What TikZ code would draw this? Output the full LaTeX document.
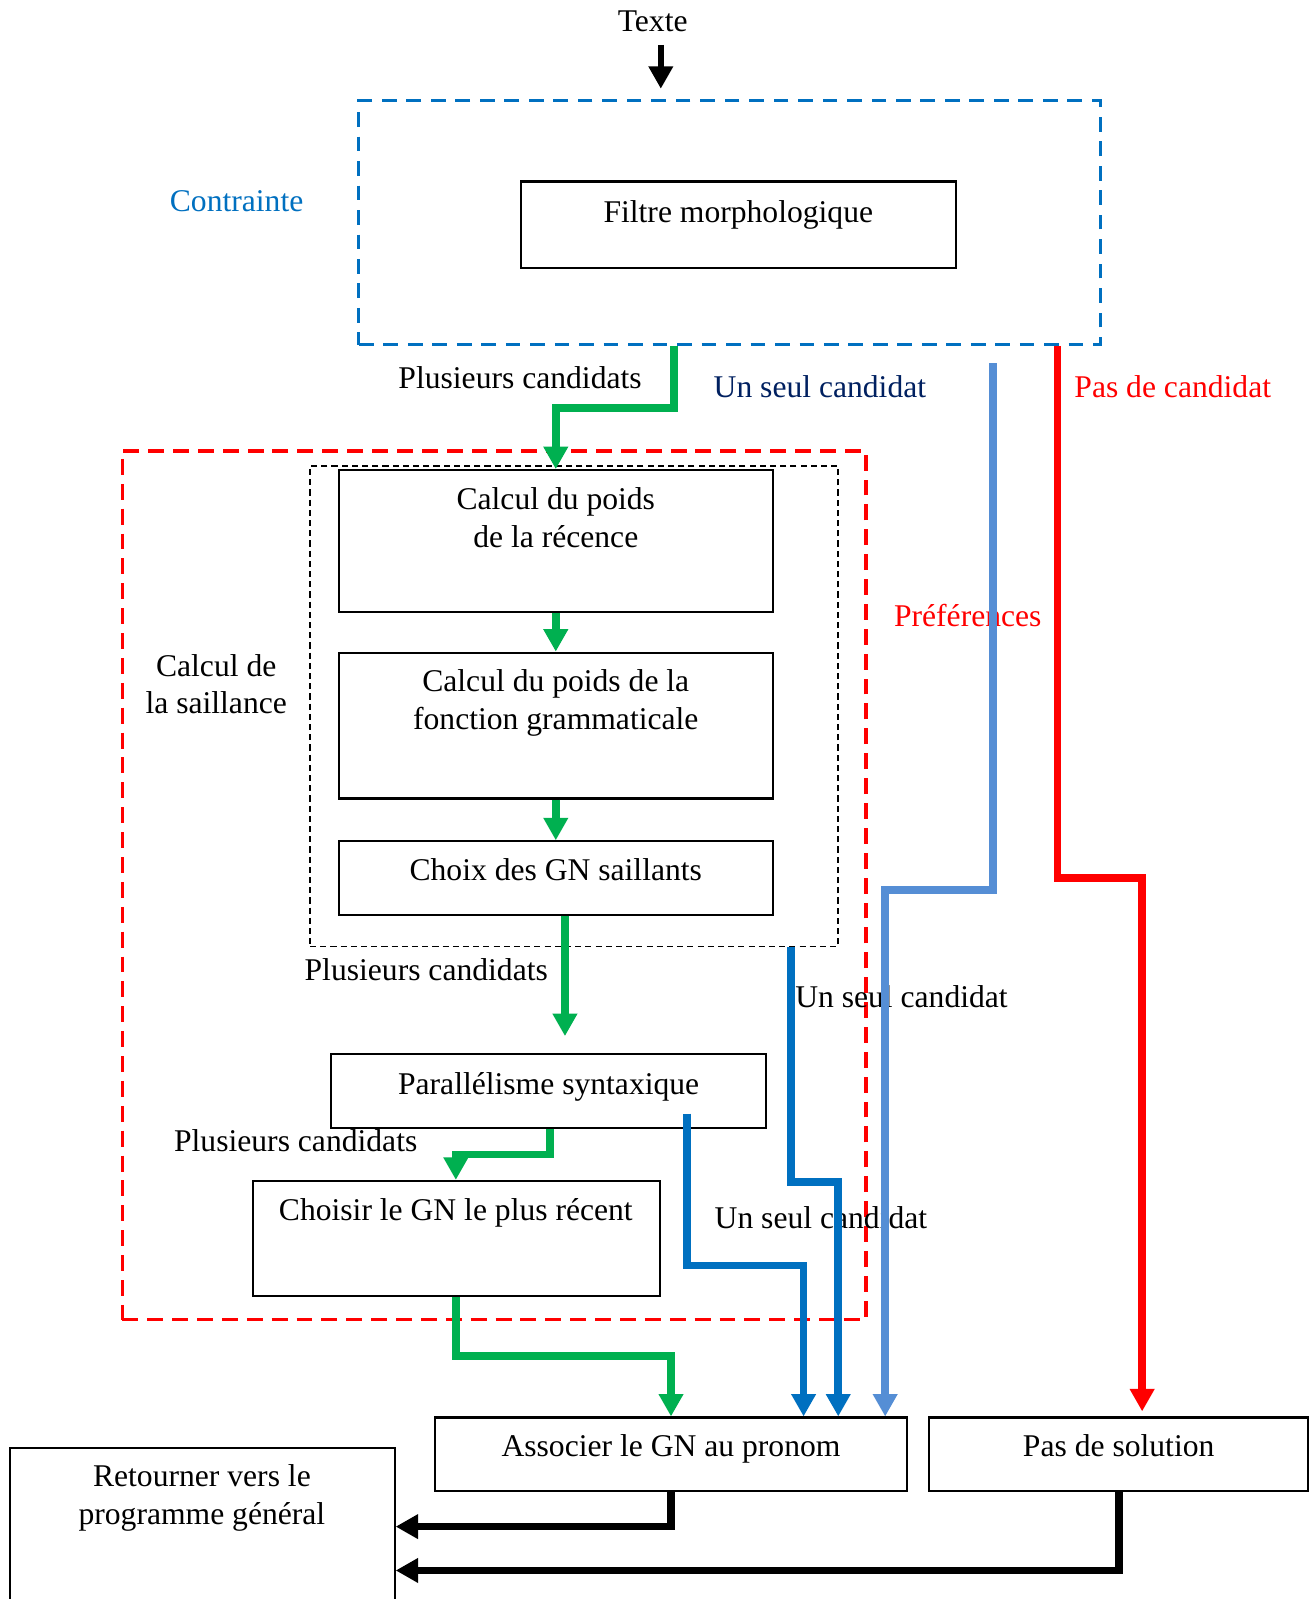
\documentclass[tikz,border=0pt]{standalone}
\usepackage{fontspec}
\setmainfont{Liberation Serif}
\usetikzlibrary{arrows.meta,fit}
\definecolor{cblue}{RGB}{0,112,192}
\definecolor{cgreen}{RGB}{0,176,80}
\definecolor{cdark}{RGB}{0,32,96}
\definecolor{clight}{RGB}{85,142,213}
\definecolor{cred}{RGB}{255,0,0}
\begin{document}
\begin{tikzpicture}[x=0.5pt,y=-0.5pt,
  box/.style={draw=black, line width=1pt, inner sep=0pt},
  bluedash/.style={draw=cblue, line width=1.5pt, dash pattern=on 7.2pt off 4.8pt, inner sep=0pt},
  reddash/.style={draw=cred, line width=1.8pt, dash pattern=on 7.8pt off 4.4pt, inner sep=0pt},
  blackdash/.style={draw=black, line width=0.75pt, dash pattern=on 3pt off 2pt, inner sep=0pt},
  txt/.style={font=\fontsize{15.5}{18.6}\selectfont, inner sep=0pt, anchor=base},
  conn/.style={line width=3.8pt, -{Triangle[length=11pt,width=11.5pt]}},
  gline/.style={conn, draw=cgreen},
  bline/.style={conn, draw=cblue},
  lline/.style={conn, draw=clight},
  rline/.style={conn, draw=cred},
  kline/.style={conn, draw=black}]
\fill[white, use as bounding box] (0,0) rectangle (1290,1568);
\clip (0,0) rectangle (1290,1568);

% frames
\node[bluedash, fit={(352,99) (1079,338)}] (cbox) {};
\node[reddash, fit={(120,442) (849,1294)}] (sbox) {};
\node[blackdash, fit={(304,457) (822,928)}] (ibox) {};

% boxes
\node[box, fit={(511,178) (937,263)}] (fbox) {};
\node[box, fit={(332,461) (758,600)}] (b1) {};
\node[box, fit={(332,640) (758,783)}] (b2) {};
\node[box, fit={(332,825) (758,897)}] (b3) {};
\node[box, fit={(325,1034) (751,1106)}] (b4) {};
\node[box, fit={(248,1158) (647,1271)}] (b5) {};
\node[box, fit={(427,1390) (889,1462)}] (b6) {};
\node[box, fit={(911,1390) (1283,1462)}] (b7) {};
\node[box, fit={(10,1420) (387,1640)}] (b8) {};

% texts
\node[txt] (tTexte) at (640,31) {Texte};
\node[txt, text=cblue] (tContr) at (232,207) {Contrainte};
\node[txt] (tFiltre) at (724,218) {Filtre morphologique};
\node[txt] (tPl1) at (510,381) {Plusieurs candidats};
\node[txt, text=cdark] (tUn1) at (804,390) {Un seul candidat};
\node[txt, text=cred] (tPas) at (1150,390) {Pas de candidat};
\node[txt, text=cred] (tPref) at (949,614) {Préférences};
\node[txt] (t1a) at (545,500) {Calcul du poids};
\node[txt] (t1b) at (545,537) {de la récence};
\node[txt] (tsa) at (212,663) {Calcul de};
\node[txt] (tsb) at (212,700) {la saillance};
\node[txt] (t2a) at (545,678) {Calcul du poids de la};
\node[txt] (t2b) at (545,715) {fonction grammaticale};
\node[txt] (t3) at (545,863) {Choix des GN saillants};
\node[txt] (tPl2) at (418,961) {Plusieurs candidats};
\node[txt] (tUn2) at (884,988) {Un seul candidat};
\node[txt] (t4) at (538,1073) {Parallélisme syntaxique};
\node[txt] (tPl3) at (290,1129) {Plusieurs candidats};
\node[txt] (t5) at (447,1197) {Choisir le GN le plus récent};
\node[txt] (tUn3) at (805,1205) {Un seul candidat};
\node[txt] (t6) at (658,1428) {Associer le GN au pronom};
\node[txt] (t7) at (1097,1428) {Pas de solution};
\node[txt] (t8a) at (198,1458) {Retourner vers le};
\node[txt] (t8b) at (198,1495) {programme général};

% free ends
\coordinate (ta) at (648,44);
\coordinate (tb) at (648,87);
\coordinate (lbstart) at (974,356);
\coordinate (rend) at (1120,1384);
\coordinate (pstart) at (674,1092);
\coordinate (gend) at (554,1016);

% connectors
\draw[conn, draw=black, line width=3.2pt] (ta) -- (tb);
\draw[gline] (661,0 |- cbox.south) |- (545,400) -- (b1.north);
\draw[gline] (b1.south) -- (b2.north);
\draw[gline] (b2.south) -- (b3.north);
\draw[gline] (554,0 |- b3.south) -- (gend);
\draw[gline] (539,0 |- b4.south) |- (447,1132) -- (447,0 |- b5.north);
\draw[gline] (447,0 |- b5.south) |- (658,1330) -- (b6.north);
\draw[bline] (pstart) -- (674,1241) -| (788,0 |- b6.north);
\draw[bline] (776,0 |- ibox.south) -- (776,1159) -| (822,0 |- b6.north);
\draw[lline] (lbstart) -- (974,873) -| (868,0 |- b6.north);
\draw[rline] (1037,0 |- cbox.south) -- (1037,861) -| (rend);
\draw[kline] (b6.south) |- (b8.east |- 0,1497);
\draw[kline] (b7.south) |- (b8.east |- 0,1540);
\end{tikzpicture}
\end{document}
